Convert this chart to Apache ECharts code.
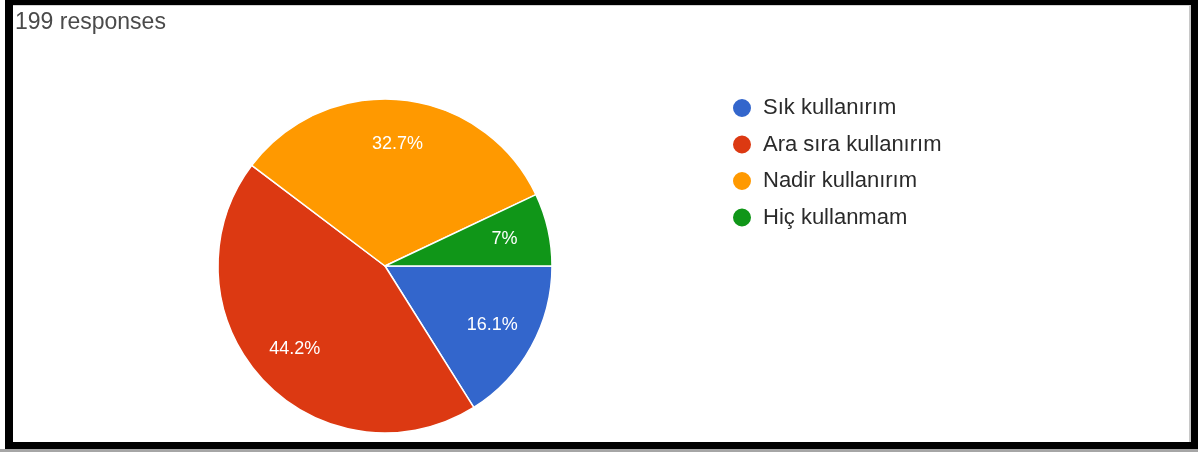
<!DOCTYPE html>
<html>
<head>
<meta charset="utf-8">
<script src="https://cdn.jsdelivr.net/npm/echarts@6/dist/echarts.min.js"></script>
<style>
  html, body { margin: 0; padding: 0; background: #ffffff; }
  #chart { position: absolute; left: 0; top: 0; width: 1198px; height: 452px; }
  #frame {
    position: absolute; left: 5px; top: 0; width: 1193px; height: 449px;
    box-sizing: border-box; border-style: solid; border-color: #000;
    border-width: 5px 7px 7px 8px; pointer-events: none;
  }
  #frame::after {
    content: ""; position: absolute; left: 0; top: 0; right: 0; bottom: 0;
    border-top: 1px solid #d4d4d4; border-right: 2px solid #c8c8c8;
  }
  #shadow { position: absolute; left: 0; top: 449px; width: 1198px; height: 3px; background: #a6a6a6; }
</style>
</head>
<body>
<div id="chart"></div>
<div id="frame"></div>
<div id="shadow"></div>
<script>
// Survey answers (number of respondents per option)
const categories = ['Sık kullanırım', 'Ara sıra kullanırım', 'Nadir kullanırım', 'Hiç kullanmam'];
const counts = [32, 88, 65, 14];
const colors = ['#3366cc', '#dc3912', '#ff9900', '#109618'];

const total = counts.reduce((a, b) => a + b, 0);
const pieData = categories.map((name, i) => ({ name: name, value: counts[i] }));

const chart = echarts.init(document.getElementById('chart'), null, { renderer: 'canvas' });
const font = '"Liberation Sans", Arial, sans-serif';

chart.setOption({
  animation: false,
  color: colors,
  title: {
    text: total + ' responses',
    left: 10,
    top: 6,
    textStyle: { fontFamily: font, fontSize: 23, fontWeight: 'normal', color: '#4a4a4a' }
  },
  legend: {
    orient: 'vertical',
    left: 726,
    top: 92,
    icon: 'circle',
    itemWidth: 20,
    itemHeight: 20,
    itemGap: 14.5,
    data: categories,
    textStyle: { fontFamily: font, fontSize: 22, color: '#2a2a2a', lineHeight: 20, padding: [0, 0, 0, 6] }
  },
  series: [
    {
      // filled pie
      type: 'pie',
      center: [385, 266],
      radius: [0, 167],
      startAngle: 0,
      clockwise: true,
      label: { show: false },
      labelLine: { show: false },
      itemStyle: { borderColor: '#ffffff', borderWidth: 1.5 },
      emphasis: { disabled: true },
      data: pieData
    },
    {
      // transparent ring carrying the percentage labels
      type: 'pie',
      center: [385, 266],
      radius: [72, 167],
      startAngle: 0,
      clockwise: true,
      silent: true,
      percentPrecision: 1,
      itemStyle: { color: 'rgba(0,0,0,0)', borderWidth: 0 },
      label: {
        show: true,
        position: 'inside',
        formatter: p => p.percent + '%',
        color: '#ffffff',
        fontFamily: font,
        fontSize: 18
      },
      labelLine: { show: false },
      emphasis: { disabled: true },
      data: pieData
    }
  ]
});
</script>
</body>
</html>
